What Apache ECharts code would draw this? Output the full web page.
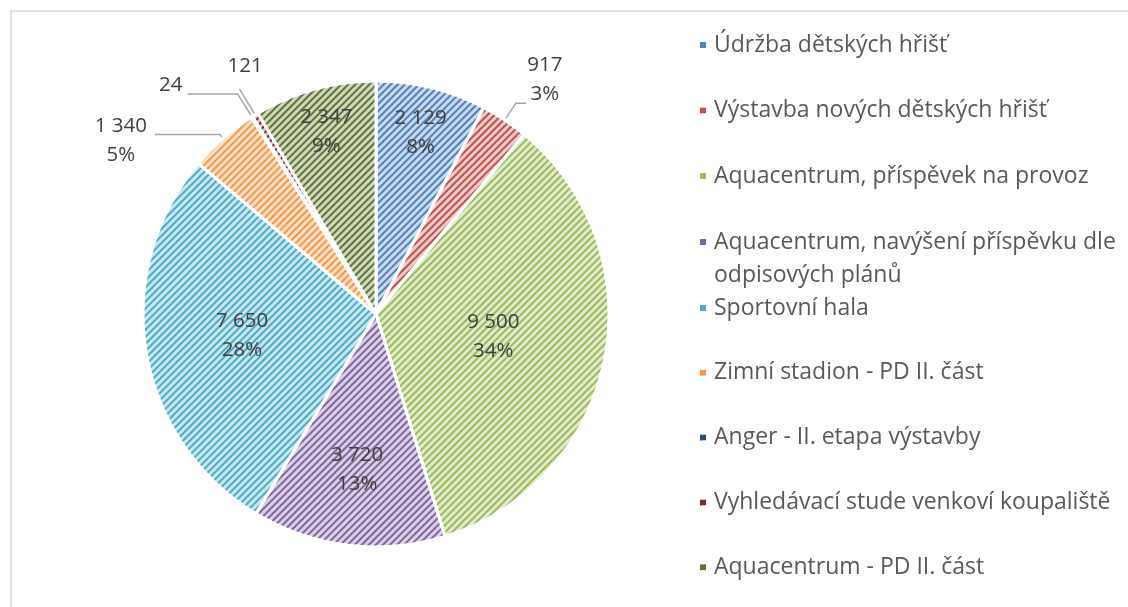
<!DOCTYPE html>
<html>
<head>
<meta charset="utf-8">
<script src="https://cdn.jsdelivr.net/npm/echarts@6/dist/echarts.min.js"></script>
<style>
html,body{margin:0;padding:0;background:#fff;}
#chart{width:1128px;height:607px;}
</style>
</head>
<body>
<div id="chart"></div>
<script>
// ---- data ----
const categories = [
  'Údržba dětských hřišť',
  'Výstavba nových dětských hřišť',
  'Aquacentrum, příspěvek na provoz',
  'Aquacentrum, navýšení příspěvku dle odpisových plánů',
  'Sportovní hala',
  'Zimní stadion - PD II. část',
  'Anger - II. etapa výstavby',
  'Vyhledávací stude venkoví koupaliště',
  'Aquacentrum - PD II. část'
];
const values = [2129, 917, 9500, 3720, 7650, 1340, 24, 121, 2347];

// ---- styles ----
const stripeColors = ['#4f81bd','#c0504d','#9bbb59','#8064a2','#4bacc6','#f79646','#2c4d75','#772c2a','#5f7530'];
const fillColors   = ['#cad9eb','#eccbca','#e1eace','#d9d1e3','#c9e6ee','#fde0c7','#c0cad6','#d6c0c0','#cfd6c1'];

// ---- layout ----
const CX = 376, CY = 314, R = 233;
// inside labels: radial position as fraction of radius
const insideLabelRadius = {0: 0.79, 2: 0.50, 3: 0.66, 4: 0.57, 8: 0.80};
// outside labels: [labelLine length, length2], label shift [dx, dy], centred lines
const outsideLine  = {1: [20, 10], 5: [5, 65], 6: [27, 50], 7: [30, 0]};
const outsideShift = {1: [14, -24, 'center'], 5: [-29, 6, 'center'], 6: [0, -9], 7: [28, -23]};

const FONT = "'Open Sans', sans-serif";
const LABEL_COLOR = '#404040';

function fmtNum(v) { return String(v).replace(/\B(?=(\d{3})+(?!\d))/g, ' '); }
function labelText(p) {
  const pct = Math.round(p.percent);
  if (pct === 0) return fmtNum(p.value);
  return fmtNum(p.value) + '\n' + pct + '%';
}

function decalFor(i) {
  return {
    symbol: 'rect', symbolSize: 1,
    dashArrayX: [1, 0], dashArrayY: [2, 3],
    rotation: -Math.PI / 4,
    color: stripeColors[i]
  };
}

const mainData = categories.map((name, i) => {
  const isOut = outsideLine[i] !== undefined;
  return {
    name: name,
    value: values[i],
    itemStyle: {color: fillColors[i], decal: decalFor(i)},
    label: {show: isOut},
    labelLine: isOut ? {show: true, length: outsideLine[i][0], length2: outsideLine[i][1]} : {show: false}
  };
});

const labelStyle = {fontFamily: FONT, fontSize: 20.5, lineHeight: 29, color: LABEL_COLOR};

const series = [{
  type: 'pie',
  center: [CX, CY],
  radius: R,
  startAngle: 90,
  clockwise: true,
  avoidLabelOverlap: false,
  percentPrecision: 0,
  animation: false,
  itemStyle: {borderColor: '#ffffff', borderWidth: 3},
  label: Object.assign({position: 'outside', formatter: labelText}, labelStyle),
  labelLine: {lineStyle: {color: '#a6a6a6', width: 1.5}, smooth: false},
  labelLayout: function (p) {
    const s = outsideShift[p.dataIndex];
    if (!s) return {};
    const o = {dx: s[0], dy: s[1]};
    if (s[2]) o.align = s[2];
    return o;
  },
  emphasis: {disabled: true},
  data: mainData
}];

// transparent helper pies, one per inside label, to place labels at chosen radii
Object.keys(insideLabelRadius).forEach(k => {
  const idx = +k, f = insideLabelRadius[k];
  series.push({
    type: 'pie',
    center: [CX, CY],
    radius: [R * (f - 0.01), R * (f + 0.01)],
    startAngle: 90,
    clockwise: true,
    silent: true,
    animation: false,
    percentPrecision: 0,
    itemStyle: {color: 'rgba(0,0,0,0)', borderWidth: 0},
    labelLine: {show: false},
    emphasis: {disabled: true},
    tooltip: {show: false},
    label: Object.assign({position: 'inside', formatter: labelText}, labelStyle),
    data: categories.map((name, i) => ({name: name, value: values[i], label: {show: i === idx}}))
  });
});

const legendText = {fontFamily: FONT, fontSize: 23, color: '#595959', lineHeight: 26};
const iconSingle = 'path://M0,0h8v8h-8z M10,4h0.01v0.01h-0.01z';
const iconDouble = 'path://M0,0h8v8h-8z M10,41.99h0.01v0.01h-0.01z';
const legendItems = (from, to) => categories.slice(from, to).map((n, j) => ({
  name: n, itemStyle: {color: stripeColors[from + j]}
}));

const option = {
  animation: false,
  backgroundColor: '#ffffff',
  graphic: [{
    type: 'rect', silent: true, z: -10,
    shape: {x: 11, y: 11, width: 1140, height: 620},
    style: {fill: 'none', stroke: '#d9d9d9', lineWidth: 1.5}
  }],
  legend: [
    {
      orient: 'vertical', left: 693, top: 27, itemGap: 39.5,
      itemWidth: 10, itemHeight: 8, icon: iconSingle,
      textStyle: legendText, selectedMode: false,
      data: legendItems(0, 3)
    },
    {
      orient: 'vertical', left: 693, top: 221, itemGap: 0,
      itemWidth: 10, itemHeight: 42, icon: iconDouble,
      textStyle: Object.assign({}, legendText, {lineHeight: 33}),
      selectedMode: false,
      formatter: function (n) { return n.replace(' odpisových', '\nodpisových'); },
      data: legendItems(3, 4)
    },
    {
      orient: 'vertical', left: 693, top: 290, itemGap: 38.8,
      itemWidth: 10, itemHeight: 8, icon: iconSingle,
      textStyle: legendText, selectedMode: false,
      data: legendItems(4, 9)
    }
  ],
  series: series
};

const chart = echarts.init(document.getElementById('chart'), null, {renderer: 'canvas'});
chart.setOption(option);
</script>
</body>
</html>
